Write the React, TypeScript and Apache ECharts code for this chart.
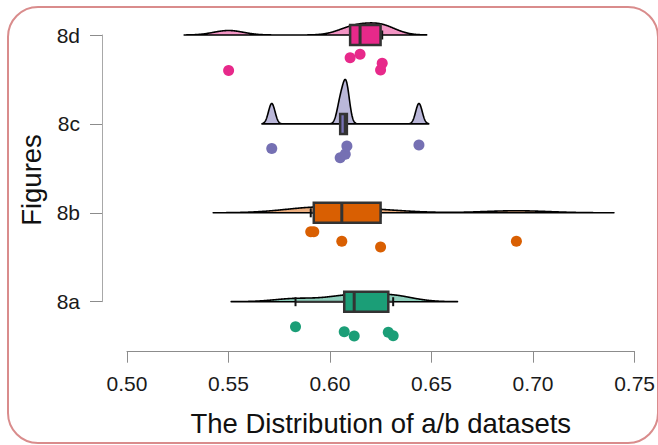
import { useEffect, useRef } from 'react';
import * as echarts from 'echarts';

// Categories (bottom to top) and colours
const categories = ['8a', '8b', '8c', '8d'];
const groupColors = ['#1b9e77', '#d95f02', '#7570b3', '#e7298a'];

const values8a = [0.583, 0.607, 0.6119, 0.6287, 0.6311];
const values8b = [0.5905, 0.592, 0.6058, 0.6249, 0.6918];
const values8c = [0.5713, 0.605, 0.6075, 0.6083, 0.6438];
const values8d = [0.55005, 0.6099, 0.6148, 0.6249, 0.6257];

// Vertical jitter of the raw points below each baseline (category units)
const jitter8a = [0.281, 0.337, 0.386, 0.344, 0.382];
const jitter8b = [0.214, 0.214, 0.32, 0.385, 0.32];
const jitter8c = [0.276, 0.381, 0.34, 0.25, 0.238];
const jitter8d = [0.4, 0.255, 0.217, 0.394, 0.318];

// X axis ticks
const xMin = 0.5;
const xMax = 0.75;
const xStep = 0.05;

const groupValues = [values8a, values8b, values8c, values8d];
const groupJitter = [jitter8a, jitter8b, jitter8c, jitter8d];

function quantile7(sorted: number[], p: number) {
  const n = sorted.length;
  const h = (n - 1) * p;
  const lo = Math.floor(h);
  const hi = Math.min(lo + 1, n - 1);
  return sorted[lo] + (h - lo) * (sorted[hi] - sorted[lo]);
}

function boxStats(vals: number[]) {
  const s = [...vals].sort((a, b) => a - b);
  const q1 = quantile7(s, 0.25);
  const med = quantile7(s, 0.5);
  const q3 = quantile7(s, 0.75);
  const iqr = q3 - q1;
  const lf = q1 - 1.5 * iqr;
  const uf = q3 + 1.5 * iqr;
  const inside = s.filter((v) => v >= lf && v <= uf);
  return { q1, med, q3, lw: Math.min(...inside), uw: Math.max(...inside) };
}

// Gaussian kernel density (R's density() with bw.nrd0, cut = 3)
function kde(vals: number[]) {
  const s = [...vals].sort((a, b) => a - b);
  const n = s.length;
  const mean = s.reduce((a, b) => a + b, 0) / n;
  const sd = Math.sqrt(s.reduce((a, b) => a + (b - mean) ** 2, 0) / (n - 1));
  const iqr = quantile7(s, 0.75) - quantile7(s, 0.25);
  const lo = Math.min(sd, iqr / 1.34);
  const bw = 0.9 * lo * Math.pow(n, -0.2);
  const from = s[0] - 3 * bw;
  const to = s[n - 1] + 3 * bw;
  const m = 512;
  const xs: number[] = [];
  const ds: number[] = [];
  for (let k = 0; k < m; k++) {
    const x = from + ((to - from) * k) / (m - 1);
    let sum = 0;
    for (const v of s) {
      const z = (x - v) / bw;
      sum += Math.exp(-0.5 * z * z) / (bw * Math.sqrt(2 * Math.PI));
    }
    xs.push(x);
    ds.push(sum / n);
  }
  return { xs, ds };
}

function rgba(hex: string, a: number) {
  const r = parseInt(hex.slice(1, 3), 16);
  const g = parseInt(hex.slice(3, 5), 16);
  const b = parseInt(hex.slice(5, 7), 16);
  return `rgba(${r},${g},${b},${a})`;
}

const FONT = '"Liberation Sans", Arial, Helvetica, sans-serif';

export default function App() {
  const ref = useRef<HTMLDivElement>(null);

  useEffect(() => {
    if (!ref.current) return;
    const chart = echarts.init(ref.current, null, { renderer: 'svg' });

    const densities = groupValues.map(kde);
    const stats = groupValues.map(boxStats);
    const globalMax = Math.max(...densities.map((d) => Math.max(...d.ds)));
    const maxHeight = 0.5; // category units
    const dScale = maxHeight / globalMax;

    const cloudSeries = {
      type: 'custom',
      xAxisIndex: 0,
      yAxisIndex: 0,
      z: 2,
      silent: true,
      data: categories.map((_, i) => [stats[i].med, i]),
      renderItem: (params: any, api: any) => {
        const gi = params.dataIndex;
        const d = densities[gi];
        const col = groupColors[gi];
        const pts = d.xs.map((x, k) => api.coord([x, gi + d.ds[k] * dScale]));
        const b0 = api.coord([d.xs[0], gi]);
        const b1 = api.coord([d.xs[d.xs.length - 1], gi]);
        const poly = [b0, ...pts, b1];
        const st = stats[gi];
        const [q1x, cy] = api.coord([st.q1, gi]);
        const [q3x] = api.coord([st.q3, gi]);
        const [medx] = api.coord([st.med, gi]);
        const [lwx] = api.coord([st.lw, gi]);
        const [uwx] = api.coord([st.uw, gi]);
        const hh = 10;
        const th = 4.5;
        const dark = '#333333';
        return {
          type: 'group',
          children: [
            {
              type: 'polygon',
              shape: { points: poly },
              style: { fill: rgba(col, 0.5), stroke: '#000', lineWidth: 1.6, lineJoin: 'round' },
            },
            {
              type: 'line',
              shape: { x1: lwx, y1: cy, x2: q1x, y2: cy },
              style: { stroke: dark, lineWidth: 2 },
            },
            {
              type: 'line',
              shape: { x1: q3x, y1: cy, x2: uwx, y2: cy },
              style: { stroke: dark, lineWidth: 2 },
            },
            {
              type: 'line',
              shape: { x1: lwx, y1: cy - th, x2: lwx, y2: cy + th },
              style: { stroke: '#111', lineWidth: 2 },
            },
            {
              type: 'line',
              shape: { x1: uwx, y1: cy - th, x2: uwx, y2: cy + th },
              style: { stroke: '#111', lineWidth: 2 },
            },
            {
              type: 'rect',
              shape: { x: q1x, y: cy - hh, width: q3x - q1x, height: 2 * hh },
              style: { fill: col, stroke: dark, lineWidth: 2.5 },
            },
            {
              type: 'line',
              shape: { x1: medx, y1: cy - hh, x2: medx, y2: cy + hh },
              style: { stroke: dark, lineWidth: 3 },
            },
          ],
        };
      },
    };

    const pointSeries = categories.map((_, gi) => ({
      type: 'scatter',
      xAxisIndex: 0,
      yAxisIndex: 0,
      z: 3,
      clip: false,
      silent: true,
      symbol: 'circle',
      symbolSize: 11,
      itemStyle: { color: groupColors[gi], opacity: 1 },
      data: groupValues[gi].map((v, k) => [v, gi - groupJitter[gi][k]]),
    }));

    chart.setOption({
      animation: false,
      backgroundColor: '#ffffff',
      grid: { left: 127, right: 20, top: 35, bottom: 143.3, containLabel: false },
      xAxis: {
        type: 'value',
        min: xMin,
        max: xMax,
        interval: xStep,
        offset: 50,
        axisLine: { show: true, onZero: false, lineStyle: { color: '#8c8c8c', width: 1 } },
        axisTick: { show: true, length: 11, lineStyle: { color: '#8c8c8c', width: 1 } },
        splitLine: { show: false },
        axisLabel: {
          formatter: (v: number) => v.toFixed(2),
          fontSize: 21,
          color: '#1a1a1a',
          fontFamily: FONT,
          margin: 21,
        },
        name: 'The Distribution of a/b datasets',
        nameLocation: 'middle',
        nameGap: 58,
        nameTextStyle: { fontSize: 27.5, color: '#111', fontFamily: FONT },
      },
      yAxis: {
        type: 'value',
        min: 0,
        max: 3,
        interval: 1,
        offset: 25,
        axisLine: { show: true, onZero: false, lineStyle: { color: '#a8a8a8', width: 1 } },
        axisTick: { show: true, length: 12, lineStyle: { color: '#8c8c8c', width: 1 } },
        splitLine: { show: false },
        axisLabel: {
          formatter: (v: number) => categories[Math.round(v)] ?? '',
          fontSize: 21,
          color: '#1a1a1a',
          fontFamily: FONT,
          margin: 22,
        },
      },
      graphic: [
        {
          type: 'rect',
          z: 0,
          silent: true,
          shape: { x: 8, y: 7, width: 650, height: 436, r: 30 },
          style: { fill: 'none', stroke: '#d98c8c', lineWidth: 2 },
        },
        {
          type: 'text',
          x: 31,
          y: 180,
          rotation: Math.PI / 2,
          silent: true,
          style: {
            text: 'Figures',
            fontSize: 27.5,
            fontFamily: FONT,
            fill: '#111',
            textAlign: 'center',
            textVerticalAlign: 'middle',
          },
        },
      ],
      series: [cloudSeries, ...pointSeries],
    });

    return () => chart.dispose();
  }, []);

  return (
    <div
      ref={ref}
      style={{ position: 'fixed', left: 0, top: 0, width: 658, height: 445 }}
    />
  );
}
